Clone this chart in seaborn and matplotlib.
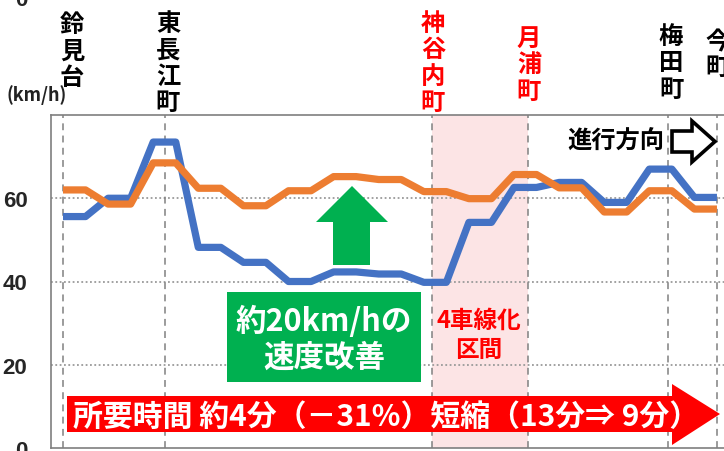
import matplotlib
matplotlib.use("Agg")
import matplotlib.pyplot as plt
import matplotlib.transforms as mtransforms
from matplotlib.patches import Polygon, Rectangle
import seaborn as sns
import pandas as pd

# ---------------- data ----------------
point_index = list(range(30))
speed_before = [55.6, 55.6, 60.0, 60.0, 73.5, 73.5, 48.2, 48.2, 44.6, 44.6,
                40.0, 40.0, 42.3, 42.3, 41.8, 41.8, 39.8, 39.8, 54.2, 54.2,
                62.6, 62.6, 63.8, 63.8, 59.0, 59.0, 67.0, 67.0, 60.2, 60.2]
speed_after = [62.0, 62.0, 58.6, 58.6, 68.5, 68.5, 62.4, 62.4, 58.2, 58.2,
               61.8, 61.8, 65.2, 65.2, 64.5, 64.5, 61.6, 61.6, 59.9, 59.9,
               65.7, 65.7, 62.5, 62.5, 56.7, 56.7, 61.8, 61.8, 57.4, 57.4]
series_names = ["整備前", "整備後"]
stations = ["鈴見台", "東長江町", "神谷内町", "月浦町", "梅田町", "今町"]
station_pos = [0.0, 4.52, 16.36, 20.62, 26.83, 29.0]
station_colors = ["black", "black", "red", "red", "black", "black"]
widen_section = [16.36, 20.62]
y_ticks = [0, 20, 40, 60]
y_unit = "(km/h)"
improve_text = ["約20km/hの", "速度改善"]
section_text = ["4車線化", "区間"]
time_text = "所要時間 約4分（－31%）短縮（13分⇒ 9分）"
direction_text = "進行方向"

# ---------------- style ----------------
sns.set_style("white")
plt.rcParams['font.family'] = ['Noto Sans CJK JP', 'DejaVu Sans']

W, H = 724, 452
fig = plt.figure(figsize=(W / 100, H / 100), dpi=100)

def F(x, y):
    return (x / W, 1 - y / H)

ax_left, ax_right, ax_top, ax_bottom = 51, 724, 116, 449
ax = fig.add_axes([ax_left / W, 1 - ax_bottom / H,
                   (ax_right - ax_left) / W, (ax_bottom - ax_top) / H])

step = 22.55
first_px = 63
ax.set_xlim((ax_left - first_px) / step, (ax_right - first_px) / step)
ax.set_ylim(0, 80)

df = pd.DataFrame({
    "pos": point_index * 2,
    "speed": speed_before + speed_after,
    "series": [series_names[0]] * len(point_index) + [series_names[1]] * len(point_index),
})

ax.axvspan(widen_section[0], widen_section[1], color="#FCE4E5", lw=0, zorder=0)
for yv in y_ticks[1:]:
    ax.axhline(yv, color="#9a9a9a", lw=1.3, linestyle=(0, (1, 1.4)), zorder=1)
for p in station_pos:
    ax.axvline(p, color="#808080", lw=1.1, linestyle=(0, (4.5, 3.5)), zorder=1)

sns.lineplot(data=df, x="pos", y="speed", hue="series",
             palette={series_names[0]: "#4472C4", series_names[1]: "#ED7D31"},
             linewidth=5.2, legend=False, ax=ax, sort=False, zorder=3)
for ln in ax.lines:
    if ln.get_linewidth() > 3:
        ln.set_solid_capstyle("butt")
        ln.set_solid_joinstyle("round")

ax.set_xticks([])
ax.set_yticks(y_ticks)
ax.set_yticklabels([str(v) for v in y_ticks], fontsize=16, fontweight="bold",
                   family=["Liberation Sans", "DejaVu Sans"])
ax.tick_params(axis="y", length=0, pad=17)
ax.set_xlabel("")
ax.set_ylabel("")
for side in ["top", "left", "bottom"]:
    ax.spines[side].set_color("#7f7f7f")
    ax.spines[side].set_linewidth(1.2)
ax.spines["right"].set_visible(False)

# stray top label (cut off, as in the reference)
fig.text(*F(21, 0), "0", ha="center", va="center", fontsize=16,
         fontweight="bold", family=["Liberation Sans", "DejaVu Sans"])

# unit label
fig.text(*F(6, 95), y_unit, ha="left", va="center", fontsize=13,
         fontweight="bold", color="#222222")

# station labels
label_tops = [13, 12, 12, 27, 25, 30]
label_dx = [9, 3, 1, 1, 3, 1]
blend = mtransforms.blended_transform_factory(ax.transData, fig.transFigure)
for name, p, col, top, dx in zip(stations, station_pos, station_colors, label_tops, label_dx):
    tr = mtransforms.offset_copy(blend, fig=fig, x=dx, y=0, units="dots")
    ax.text(p, 1 - top / H, "\n".join(name), transform=tr, ha="center", va="top",
            fontsize=17.5, fontweight="bold", color=col, linespacing=1.12,
            clip_on=False)

# green arrow + box
green = "#00B050"
fig.patches.append(Polygon([F(352, 187), F(388, 223), F(370, 223), F(370, 266),
                            F(333, 266), F(333, 223), F(316, 223)],
                           closed=True, transform=fig.transFigure,
                           facecolor=green, edgecolor="none"))
x0, y0 = F(227, 383)
x1, y1 = F(421, 293)
fig.patches.append(Rectangle((x0, y0), x1 - x0, y1 - y0, transform=fig.transFigure,
                             facecolor=green, edgecolor="none"))
fig.text(*F(324, 322), improve_text[0], ha="center", va="center", fontsize=22,
         fontweight="bold", color="white")
fig.text(*F(324, 358), improve_text[1], ha="center", va="center", fontsize=22,
         fontweight="bold", color="white")

# 4-lane section text
fig.text(*F(479, 321), section_text[0], ha="center", va="center", fontsize=17,
         fontweight="bold", color="#FF0000")
fig.text(*F(479, 350), section_text[1], ha="center", va="center", fontsize=17,
         fontweight="bold", color="#FF0000")

# direction text + outline arrow
fig.text(*F(616, 142), direction_text, ha="center", va="center", fontsize=17.5,
         fontweight="bold", color="black")
fig.patches.append(Polygon([F(672, 132), F(692, 132), F(692, 122), F(715, 142.5),
                            F(692, 163), F(692, 153), F(672, 153)],
                           closed=True, transform=fig.transFigure,
                           facecolor="white", edgecolor="black", lw=2.6,
                           joinstyle="miter"))

# red time arrow
fig.patches.append(Polygon([F(67, 397), F(672, 397), F(672, 385), F(720, 415),
                            F(672, 446), F(672, 433), F(67, 433)],
                           closed=True, transform=fig.transFigure,
                           facecolor="#FF0000", edgecolor="none"))
fig.text(*F(73, 417), time_text, ha="left", va="center", fontsize=21.5,
         fontweight="bold", color="white")

fig.savefig("out.png", dpi=100)
